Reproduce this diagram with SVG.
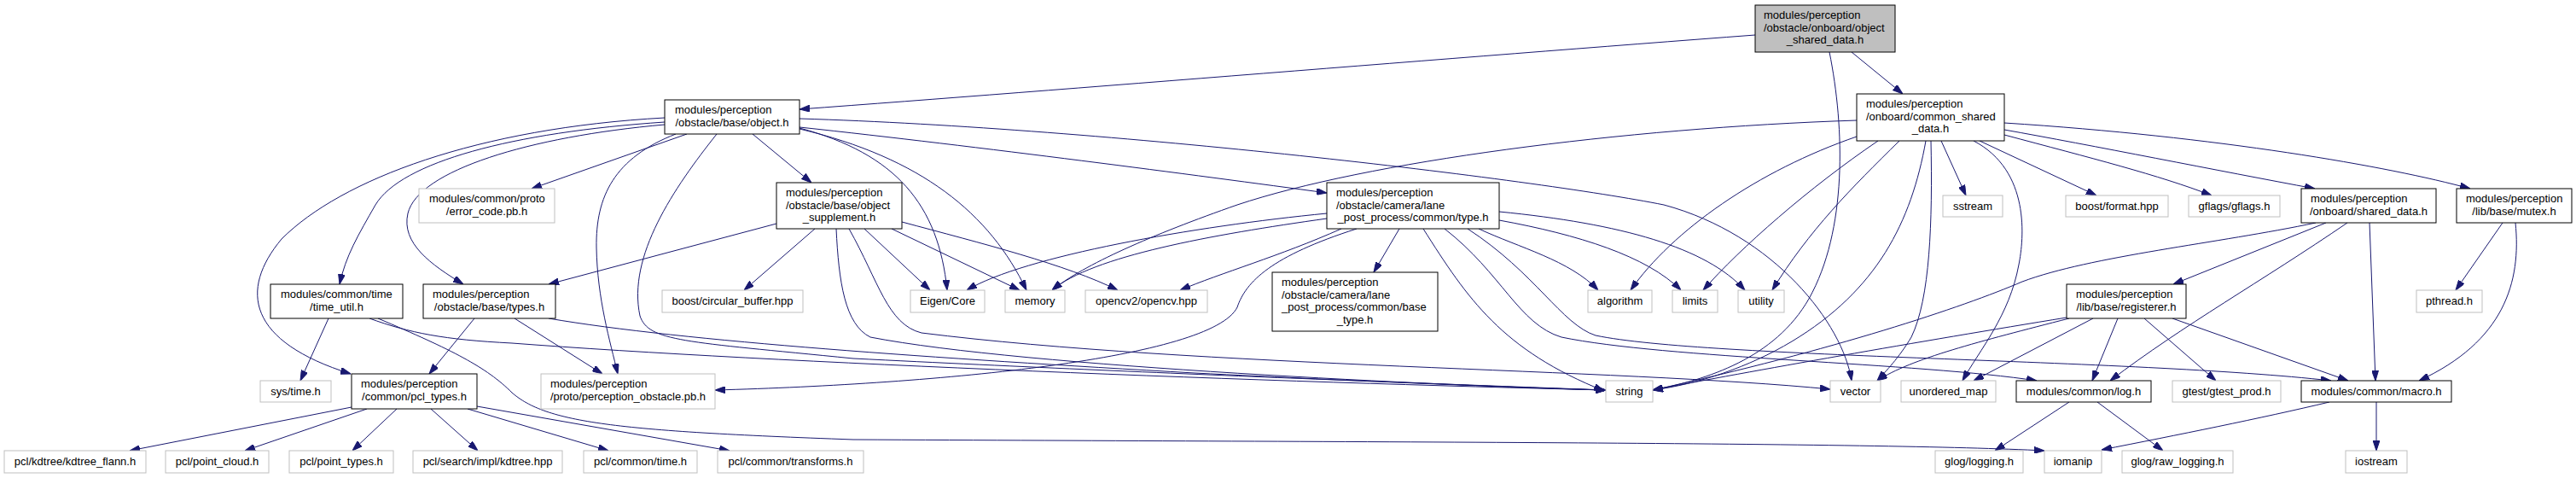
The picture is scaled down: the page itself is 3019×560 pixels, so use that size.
<svg xmlns="http://www.w3.org/2000/svg" width="3019" height="560" viewBox="0 0 3019 560">
<style>
text{font-family:"Liberation Sans",Arial,sans-serif;font-size:13px;fill:#000}
.c{text-anchor:middle}
.n{fill:#fff;stroke:#000;stroke-width:1}
.g{fill:#fff;stroke:#bfbfbf;stroke-width:1}
.r{fill:#bfbfbf;stroke:#000;stroke-width:1}
#edges path{fill:none;stroke:#191970;stroke-width:1;marker-end:url(#ah)}
</style>
<defs>
<marker id="ah" markerUnits="userSpaceOnUse" markerWidth="12" markerHeight="8" refX="12" refY="4" orient="auto" viewBox="0 0 12 8"><path d="M0,0 L12,4 L0,8 z" fill="#191970" stroke="#191970"/></marker>
</defs>
<rect width="3019" height="560" fill="#fff"/>
<g id="edges">
<path d="M2057,41 C1700,68 1250,105 937,128"/>
<path d="M2170,61 L2230,110"/>
<path d="M2144,61 C2162,150 2165,270 2120,350 C2080,420 2000,445 1937,457"/>
<path d="M805,157 L623,221"/>
<path d="M882,157 L951,214"/>
<path d="M937,149 C1150,172 1400,205 1555,226"/>
<path d="M937,139 C1300,150 1800,210 1950,240 C2080,275 2160,380 2170,446"/>
<path d="M779,138 C560,150 400,210 330,280 C280,340 290,400 411,438"/>
<path d="M779,143 C600,155 470,190 440,240 C420,275 405,300 398,333"/>
<path d="M779,146 C620,160 490,200 478,250 C470,285 505,310 543,333"/>
<path d="M792,157 C720,185 698,230 699,290 C700,350 715,400 724,438"/>
<path d="M840,157 C790,220 735,300 750,370 C760,400 800,400 1000,420 C1400,440 1750,452 1882,457"/>
<path d="M937,150 C1050,180 1100,240 1110,340"/>
<path d="M937,151 C1080,185 1160,250 1203,340"/>
<path d="M910,262 L643,333"/>
<path d="M955,268 L872,340"/>
<path d="M1013,268 L1090,340"/>
<path d="M1045,268 L1195,340"/>
<path d="M1057,260 C1150,285 1250,310 1310,340"/>
<path d="M980,268 C983,330 990,380 1020,395 C1200,430 1700,452 1882,457"/>
<path d="M995,268 C1030,330 1040,380 1080,390 C1400,430 1900,432 2145,456"/>
<path d="M1555,250 C1400,265 1200,300 1133,340"/>
<path d="M1555,256 C1420,275 1280,300 1233,340"/>
<path d="M1572,268 C1500,300 1430,320 1383,340"/>
<path d="M1590,268 C1490,300 1460,330 1450,360 C1420,420 1100,450 838,457"/>
<path d="M1640,268 L1610,319"/>
<path d="M1668,268 C1720,350 1760,410 1880,458"/>
<path d="M1693,268 C1760,320 1780,380 1830,395 C1950,420 2250,425 2387,446"/>
<path d="M1720,268 C1800,320 1830,380 1870,393 C2000,420 2500,420 2732,446"/>
<path d="M1733,268 C1780,290 1840,305 1873,340"/>
<path d="M1757,258 C1850,275 1930,300 1970,340"/>
<path d="M1757,248 C1900,262 2000,290 2045,340"/>
<path d="M2176,141 C1900,150 1600,190 1450,240 C1350,275 1270,310 1233,340"/>
<path d="M2176,160 C2060,200 1960,270 1911,340"/>
<path d="M2201,165 C2120,220 2040,290 1996,340"/>
<path d="M2226,165 C2170,220 2120,270 2077,340"/>
<path d="M2257,165 C2240,260 2200,340 2100,400 C2050,430 1990,450 1937,457"/>
<path d="M2263,165 C2265,260 2262,350 2240,395 C2225,420 2210,435 2200,446"/>
<path d="M2313,165 C2380,200 2372,280 2366,310 C2355,370 2320,410 2300,446"/>
<path d="M2275,165 L2304,229"/>
<path d="M2320,165 L2457,229"/>
<path d="M2349,158 C2450,185 2530,205 2592,229"/>
<path d="M2349,152 C2450,170 2600,200 2713,221"/>
<path d="M2349,144 C2600,160 2800,195 2895,221"/>
<path d="M2714,261 C2600,285 2450,300 2370,330 C2300,360 2150,410 1937,457"/>
<path d="M2726,261 L2547,333"/>
<path d="M2751,261 C2650,330 2560,380 2473,446"/>
<path d="M2777,261 L2784,446"/>
<path d="M2933,261 L2878,340"/>
<path d="M2948,261 C2955,330 2935,400 2835,446"/>
<path d="M2422,372 C2250,400 2050,435 1937,457"/>
<path d="M2425,373 C2320,400 2240,420 2200,446"/>
<path d="M2453,373 L2313,446"/>
<path d="M2482,373 L2452,446"/>
<path d="M2513,373 L2597,446"/>
<path d="M2546,373 L2752,446"/>
<path d="M2425,471 L2338,528"/>
<path d="M2458,471 L2535,528"/>
<path d="M2785,471 L2785,528"/>
<path d="M2730,471 C2650,490 2550,510 2463,527"/>
<path d="M385,373 L352,446"/>
<path d="M433,373 C480,390 520,398 600,402 C900,425 1500,448 1882,457"/>
<path d="M443,373 C530,410 570,430 600,460 C640,495 720,505 1000,515 C1600,518 2200,518 2396,528"/>
<path d="M556,373 L503,438"/>
<path d="M603,373 L706,438"/>
<path d="M643,373 C800,400 1100,420 1400,437 C1600,447 1800,455 1882,457"/>
<path d="M412,477 L152,528"/>
<path d="M430,479 L287,528"/>
<path d="M465,479 L413,528"/>
<path d="M505,479 L560,528"/>
<path d="M548,479 L713,528"/>
<path d="M559,476 L855,528"/>
</g>
<g id="root"><rect class="r" x="2057" y="6" width="164" height="55"/><text x="2067" y="22">modules/perception</text><text x="2067" y="37">/obstacle/onboard/object</text><text class="c" x="2139" y="51">_shared_data.h</text></g>
<g id="object"><rect class="n" x="779" y="117" width="158" height="40"/><text x="791" y="133">modules/perception</text><text class="c" x="858" y="148">/obstacle/base/object.h</text></g>
<g id="error_code"><rect class="g" x="491" y="221" width="159" height="40"/><text x="503" y="237">modules/common/proto</text><text class="c" x="570.5" y="252">/error_code.pb.h</text></g>
<g id="supplement"><rect class="n" x="910" y="214" width="147" height="54"/><text x="921" y="230">modules/perception</text><text x="921" y="245">/obstacle/base/object</text><text class="c" x="983.5" y="259">_supplement.h</text></g>
<g id="type"><rect class="n" x="1555" y="214" width="202" height="54"/><text x="1566" y="230">modules/perception</text><text x="1566" y="245">/obstacle/camera/lane</text><text class="c" x="1656" y="259">_post_process/common/type.h</text></g>
<g id="common_shared"><rect class="n" x="2176" y="110" width="173" height="55"/><text x="2187" y="126">modules/perception</text><text x="2187" y="141">/onboard/common_shared</text><text class="c" x="2262.5" y="155">_data.h</text></g>
<g id="sstream"><rect class="g" x="2277" y="229" width="70" height="25"/><text class="c" x="2312" y="246">sstream</text></g>
<g id="boost_format"><rect class="g" x="2421" y="229" width="120" height="25"/><text class="c" x="2481" y="246">boost/format.hpp</text></g>
<g id="gflags"><rect class="g" x="2565" y="229" width="107" height="25"/><text class="c" x="2618.5" y="246">gflags/gflags.h</text></g>
<g id="shared_data"><rect class="n" x="2697" y="221" width="158" height="40"/><text x="2708" y="237">modules/perception</text><text class="c" x="2776" y="252">/onboard/shared_data.h</text></g>
<g id="mutex"><rect class="n" x="2879" y="221" width="135" height="40"/><text x="2890" y="237">modules/perception</text><text class="c" x="2946.5" y="252">/lib/base/mutex.h</text></g>
<g id="time_util"><rect class="n" x="317" y="333" width="155" height="40"/><text x="329" y="349">modules/common/time</text><text class="c" x="394.5" y="364">/time_util.h</text></g>
<g id="types"><rect class="n" x="496" y="333" width="155" height="40"/><text x="507" y="349">modules/perception</text><text class="c" x="573.5" y="364">/obstacle/base/types.h</text></g>
<g id="sys_time"><rect class="g" x="305" y="446" width="83" height="25"/><text class="c" x="346.5" y="463">sys/time.h</text></g>
<g id="pcl_types"><rect class="n" x="412" y="438" width="147" height="41"/><text x="423" y="454">modules/perception</text><text class="c" x="485.5" y="469">/common/pcl_types.h</text></g>
<g id="perception_obstacle"><rect class="g" x="634" y="438" width="204" height="41"/><text x="645" y="454">modules/perception</text><text class="c" x="736" y="469">/proto/perception_obstacle.pb.h</text></g>
<g id="circular_buffer"><rect class="g" x="776" y="340" width="165" height="26"/><text class="c" x="858.5" y="357">boost/circular_buffer.hpp</text></g>
<g id="eigen"><rect class="g" x="1067" y="340" width="87" height="26"/><text class="c" x="1110.5" y="357">Eigen/Core</text></g>
<g id="memory"><rect class="g" x="1178" y="340" width="70" height="26"/><text class="c" x="1213" y="357">memory</text></g>
<g id="opencv"><rect class="g" x="1272" y="340" width="143" height="26"/><text class="c" x="1343.5" y="357">opencv2/opencv.hpp</text></g>
<g id="base_type"><rect class="n" x="1491" y="319" width="194" height="69"/><text x="1502" y="335">modules/perception</text><text x="1502" y="349.5">/obstacle/camera/lane</text><text x="1502" y="364">_post_process/common/base</text><text class="c" x="1588" y="379">_type.h</text></g>
<g id="algorithm"><rect class="g" x="1861" y="340" width="75" height="26"/><text class="c" x="1898.5" y="357">algorithm</text></g>
<g id="limits"><rect class="g" x="1960" y="340" width="53" height="26"/><text class="c" x="1986.5" y="357">limits</text></g>
<g id="utility"><rect class="g" x="2037" y="340" width="54" height="26"/><text class="c" x="2064" y="357">utility</text></g>
<g id="string"><rect class="g" x="1882" y="446" width="55" height="25"/><text class="c" x="1909.5" y="463">string</text></g>
<g id="vector"><rect class="g" x="2145" y="446" width="59" height="25"/><text class="c" x="2174.5" y="463">vector</text></g>
<g id="unordered_map"><rect class="g" x="2228" y="446" width="111" height="25"/><text class="c" x="2283.5" y="463">unordered_map</text></g>
<g id="log"><rect class="n" x="2363" y="446" width="158" height="25"/><text class="c" x="2442" y="463">modules/common/log.h</text></g>
<g id="registerer"><rect class="n" x="2422" y="333" width="140" height="40"/><text x="2433" y="349">modules/perception</text><text class="c" x="2492" y="364">/lib/base/registerer.h</text></g>
<g id="gtest"><rect class="g" x="2546" y="446" width="127" height="25"/><text class="c" x="2609.5" y="463">gtest/gtest_prod.h</text></g>
<g id="macro"><rect class="n" x="2697" y="446" width="176" height="25"/><text class="c" x="2785" y="463">modules/common/macro.h</text></g>
<g id="pthread"><rect class="g" x="2832" y="340" width="77" height="26"/><text class="c" x="2870.5" y="357">pthread.h</text></g>
<g id="kdtree_flann"><rect class="g" x="5" y="528" width="166" height="26"/><text class="c" x="88" y="545">pcl/kdtree/kdtree_flann.h</text></g>
<g id="point_cloud"><rect class="g" x="194" y="528" width="121" height="26"/><text class="c" x="254.5" y="545">pcl/point_cloud.h</text></g>
<g id="point_types"><rect class="g" x="339" y="528" width="122" height="26"/><text class="c" x="400" y="545">pcl/point_types.h</text></g>
<g id="kdtree_hpp"><rect class="g" x="484" y="528" width="175" height="26"/><text class="c" x="571.5" y="545">pcl/search/impl/kdtree.hpp</text></g>
<g id="common_time"><rect class="g" x="684" y="528" width="133" height="26"/><text class="c" x="750.5" y="545">pcl/common/time.h</text></g>
<g id="transforms"><rect class="g" x="841" y="528" width="171" height="26"/><text class="c" x="926.5" y="545">pcl/common/transforms.h</text></g>
<g id="glog_logging"><rect class="g" x="2268" y="528" width="103" height="26"/><text class="c" x="2319.5" y="545">glog/logging.h</text></g>
<g id="iomanip"><rect class="g" x="2396" y="528" width="67" height="26"/><text class="c" x="2429.5" y="545">iomanip</text></g>
<g id="raw_logging"><rect class="g" x="2487" y="528" width="130" height="26"/><text class="c" x="2552" y="545">glog/raw_logging.h</text></g>
<g id="iostream"><rect class="g" x="2749" y="528" width="72" height="26"/><text class="c" x="2785" y="545">iostream</text></g>
</svg>
